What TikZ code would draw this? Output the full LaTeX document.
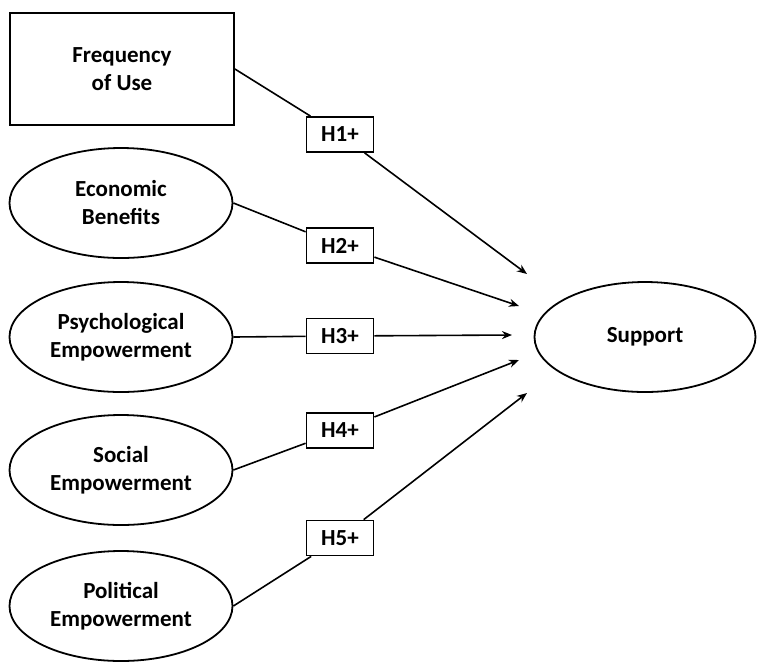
\documentclass[tikz,border=0pt]{standalone}
\usepackage{fontspec}
\setmainfont{Carlito}
\usetikzlibrary{shapes.geometric,arrows.meta}

\begin{document}
\begin{tikzpicture}[x=0.5pt,y=-0.5pt,
  every node/.style={font=\bfseries\fontsize{11.5}{14}\selectfont, align=center, line width=0.9pt},
  construct/.style={draw, ellipse, inner sep=0pt, minimum width=111.5pt, minimum height=55pt},
  hyp/.style={draw, rectangle, inner sep=0pt, minimum width=33.5pt, minimum height=17.5pt},
  link/.style={line width=0.8pt},
  path/.style={line width=0.8pt, -{Stealth[length=5pt,width=4pt]}}]
\useasboundingbox (0,0) rectangle (757,661);

\node[draw, rectangle, minimum width=112pt, minimum height=56pt](freq) at (122,69) {Frequency\\of Use};
\node[construct](econ) at (121,203) {Economic\\Benefits};
\node[construct](psych) at (121,337) {Psychological\\Empowerment};
\node[construct](social) at (121,470) {Social\\Empowerment};
\node[construct](polit) at (121,606) {Political\\Empowerment};
\node[construct, minimum width=110.5pt](support) at (645,337) {Support};

\node[hyp](H1) at (340,134.5) {H1+};
\node[hyp](H2) at (340,245.5) {H2+};
\node[hyp](H3) at (340,336) {H3+};
\node[hyp](H4) at (340,430.5) {H4+};
\node[hyp](H5) at (340,538) {H5+};

% arrow ends stop short of Support
\coordinate (t1) at (527,274);
\coordinate (t2) at (519,306);
\coordinate (t3) at (512,335);
\coordinate (t4) at (519,360);
\coordinate (t5) at (527,393);

\draw[link](freq.east) -- (H1);
\draw[path](H1) -- (t1);
\draw[link](econ.east) -- (H2);
\draw[path](H2) -- (t2);
\draw[link](psych.east) -- (H3);
\draw[path](H3) -- (t3);
\draw[link](social.east) -- (H4);
\draw[path](H4) -- (t4);
\draw[link](polit.east) -- (H5);
\draw[path](H5) -- (t5);
\end{tikzpicture}
\end{document}
